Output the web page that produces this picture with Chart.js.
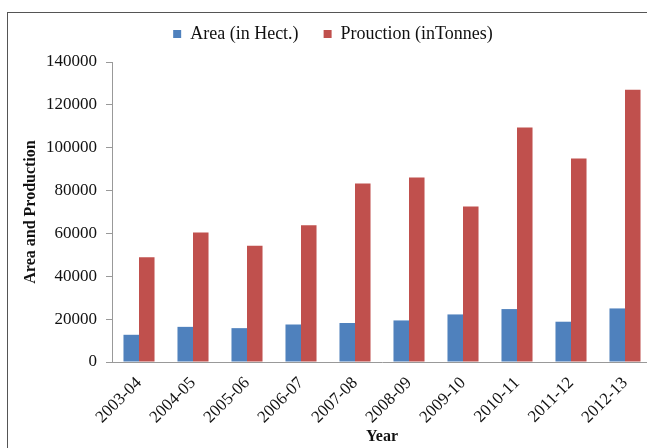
<!DOCTYPE html>
<html>
<head>
<meta charset="utf-8">
<script src="https://cdn.jsdelivr.net/npm/chart.js@4.4.0/dist/chart.umd.min.js"></script>
<style>
  html, body { margin: 0; padding: 0; background: #fff; overflow: hidden; }
  #frame { position: absolute; left: 7px; top: 12px; width: 700px; height: 500px; border: 1px solid #555; }
  #wrap { position: absolute; left: 0; top: 0; width: 660px; height: 448px; }
</style>
</head>
<body>
<div id="frame"></div>
<div id="wrap"><canvas id="myChart"></canvas></div>
<script>
const years = ['2003-04', '2004-05', '2005-06', '2006-07', '2007-08', '2008-09', '2009-10', '2010-11', '2011-12', '2012-13'];
const area = [12700, 16400, 15800, 17500, 18200, 19400, 22200, 24700, 18800, 25000];
const production = [48900, 60400, 54300, 63800, 83300, 86100, 72600, 109400, 95000, 127100];
const yTicks = [0, 20000, 40000, 60000, 80000, 100000, 120000, 140000];

const serif = "'Liberation Serif', 'Times New Roman', serif";

// push the plot area down below the legend
const legendMargin = {
    id: 'legendMargin',
    beforeInit(chart) {
        const fit = chart.legend.fit;
        chart.legend.fit = function () {
            fit.bind(chart.legend)();
            this.height += 9;
        };
    }
};

const ctx = document.getElementById('myChart').getContext('2d');

const myChart = new Chart(ctx, {
    type: 'bar',
    data: {
        labels: years,
        datasets: [{
            label: 'Area (in Hect.)',
            data: area,
            backgroundColor: '#4F81BD',
            borderWidth: 0
        }, {
            label: 'Prouction (inTonnes)',
            data: production,
            backgroundColor: '#C0504D',
            borderWidth: 0
        }]
    },
    options: {
        responsive: true,
        maintainAspectRatio: false,
        animation: false,
        layout: { padding: { top: 0, right: 8, bottom: 0, left: 14 } },
        datasets: {
            bar: { barPercentage: 1, categoryPercentage: 0.575 }
        },
        plugins: {
            legend: {
                position: 'top',
                labels: {
                    boxWidth: 8,
                    boxHeight: 8,
                    padding: 25,
                    color: '#111',
                    font: { family: serif, size: 18 }
                }
            },
            tooltip: { enabled: false }
        },
        scales: {
            x: {
                grid: { display: false },
                border: { display: true, color: '#999', width: 1 },
                ticks: {
                    color: '#111',
                    minRotation: 45,
                    maxRotation: 45,
                    autoSkip: false,
                    font: { family: serif, size: 17 }
                },
                title: {
                    display: true,
                    text: 'Year',
                    color: '#111',
                    padding: { top: 0, bottom: 1.5 },
                    font: { family: serif, size: 16, weight: 'bold' }
                },
                afterFit(scale) { scale.height = 86; }
            },
            y: {
                min: 0,
                max: 140000,
                afterBuildTicks(scale) {
                    scale.ticks = yTicks.map(v => ({ value: v }));
                },
                grid: { drawOnChartArea: false, drawTicks: true, tickLength: 6, color: '#999' },
                border: { display: true, color: '#999', width: 1 },
                ticks: {
                    color: '#111',
                    padding: 9,
                    font: { family: serif, size: 17 },
                    callback: v => String(v)
                },
                title: {
                    display: true,
                    text: 'Area and Production',
                    color: '#111',
                    padding: { top: 7, bottom: 0 },
                    font: { family: serif, size: 16, weight: 'bold' }
                },
                afterFit(scale) { scale.width = 98; }
            }
        }
    },
    plugins: [legendMargin]
});
</script>
</body>
</html>
